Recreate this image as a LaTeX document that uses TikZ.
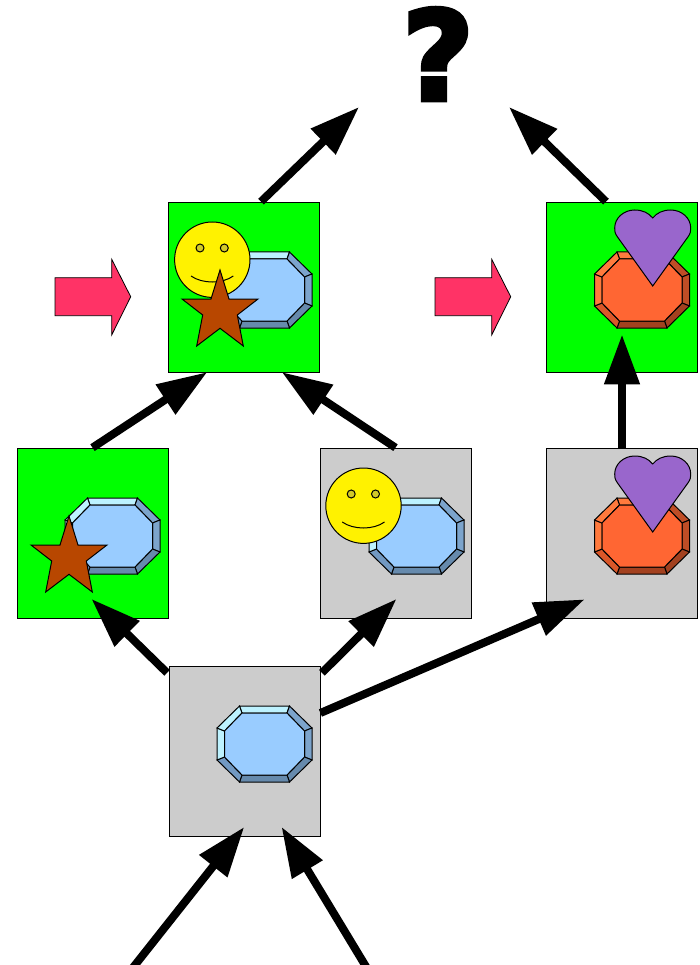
\documentclass[tikz,border=0pt]{standalone}
\usepackage{fontspec}
\newfontfamily\askfont[FakeBold=3.6]{DejaVu Sans Bold}
\usetikzlibrary{arrows.meta}

\definecolor{bluemain}{HTML}{99CCFF}
\definecolor{bluehi}{HTML}{BDF2FF}
\definecolor{blueside}{HTML}{7CA4CC}
\definecolor{blueunder}{HTML}{668AAD}
\definecolor{bluelow}{HTML}{7299C2}
\definecolor{orangemain}{HTML}{FF6633}
\definecolor{orangehi}{HTML}{FF7A3D}
\definecolor{orangeside}{HTML}{BF4D26}
\definecolor{orangeunder}{HTML}{A3411F}
\definecolor{orangelow}{HTML}{D95729}
\definecolor{pushred}{HTML}{FF3366}
\definecolor{starbrown}{HTML}{B84700}
\definecolor{heartpurple}{HTML}{9966CC}

\tikzset{
    panel/.style={draw, line width=.8pt, minimum width=151pt, minimum height=170.5pt, inner sep=0pt},
    greenbox/.style={panel, fill=green},
    graybox/.style={panel, fill=black!20},
    flow/.style={line width=8pt, shorten >=-1.5pt, -{Triangle[length=50pt, width=34pt]}},
    pushmark/.style={draw, line width=.8pt, fill=pushred},
    figline/.style={line width=1pt}
}

% gem at centre #1, colours by name prefix #2
\newcommand{\gem}[2]{
    \begin{scope}[shift={(#1)}, figline]
        \foreach \n/\a/\b/\c/\d in {1/-25/-38/-22.5/-31, 2/25/-38/22.5/-31, 3/47.5/-16/40/-13, 4/47.5/16/40/13,
                                    5/25/38/22.5/31, 6/-25/38/-22.5/31, 7/-47.5/16/-40/13, 8/-47.5/-16/-40/-13} {
            \coordinate (o\n) at (\a,\b);
            \coordinate (i\n) at (\c,\d);
        }
        \foreach \a/\b/\tint in {1/2/hi, 2/3/side, 3/4/side, 4/5/under, 5/6/under, 6/7/low, 7/8/hi, 8/1/hi}
            \draw[fill=#2\tint] (o\a) -- (o\b) -- (i\b) -- (i\a) -- cycle;
        \draw[fill=#2main] (i1) -- (i2) -- (i3) -- (i4) -- (i5) -- (i6) -- (i7) -- (i8) -- cycle;
    \end{scope}
}
\newcommand{\smiley}[1]{
    \begin{scope}[shift={(#1)}, figline]
        \draw[fill=yellow] (0,0) circle (37.7pt);
        \draw[fill=yellow!80!black] (-12.3,-11.7) circle (4pt);
        \draw[fill=yellow!80!black] (12,-11.7) circle (4pt);
        \draw (-21.3,16.3) .. controls (-10,24.3) and (10,24.3) .. (21,16.3);
    \end{scope}
}
\newcommand{\starfig}[1]{
    \draw[shift={(#1)}, figline, fill=starbrown] (0,-42) -- (9,-13) -- (38,-13) -- (17.3,3) -- (23.3,34) -- (0,16.3)
        -- (-23.3,34) -- (-17.3,3) -- (-38,-13) -- (-9,-13) -- cycle;
}
\newcommand{\heartfig}[1]{
    \draw[shift={(#1)}, figline, fill=heartpurple] (0,68) -- (-35.4,18.7) .. controls (-38,15) and (-38,13) .. (-38,10)
        .. controls (-38,0) and (-29,-8) .. (-18,-8) .. controls (-10,-8) and (-4,-5) .. (0,0)
        .. controls (4,-5) and (10,-8) .. (18,-8) .. controls (29,-8) and (38,0) .. (38,10)
        .. controls (38,13) and (38,15) .. (35.4,18.7) -- cycle;
}

\begin{document}
\begin{tikzpicture}[x=1pt, y=-1pt]
    \clip (0,0) rectangle (699,965);

    % Nodes
    \node (ask) at (438,54) {\askfont\fontsize{124}{124}\selectfont ?};
    \node (topleft) [greenbox] at (244,287.3) {};
    \node (topright) [greenbox, right of=topleft, node distance=378pt] {};
    \node (midleft) [greenbox, below of=topleft, node distance=246pt, xshift=-151.5pt] {};
    \node (midmid) [graybox, right of=midleft, node distance=303pt] {};
    \node (midright) [graybox, right of=midleft, node distance=529.5pt] {};
    \node (base) [graybox, below of=topleft, node distance=464.2pt, xshift=.5pt] {};
    \coordinate (askleft) at (358,108);
    \coordinate (askright) at (510,108);
    \coordinate (feedleft) at (124.2,978.7);
    \coordinate (feedright) at (373.3,978.7);

    % Block arrows
    \foreach \x in {0,380}
        \draw[pushmark, xshift=\x pt] (55,277.7) -- (111.7,277.7) -- (111.7,259.3) -- (130.7,296.7)
            -- (111.7,335) -- (111.7,315.7) -- (55,315.7) -- cycle;

    % Figures
    \gem{264.5,290}{blue}
    \smiley{212.3,259.7}
    \starfig{220,312}
    \gem{642,290}{orange}
    \heartfig{652.7,218}
    \gem{112.5,536}{blue}
    \starfig{69,558}
    \gem{416.5,536}{blue}
    \smiley{363.5,505.7}
    \gem{642,536}{orange}
    \heartfig{652.7,464}
    \gem{264.5,744}{blue}

    % Edges
    \draw[flow] (topleft.north) ++(17pt,0pt) -- (askleft);
    \draw[flow] (topright.north) ++(-16pt,0pt) -- (askright);
    \draw[flow] (midleft.north) -- ([xshift=-38pt]topleft.south);
    \draw[flow] (midmid.north) -- ([xshift=39pt]topleft.south);
    \draw[flow] (midright.north) -- ([yshift=37pt]topright.south);
    \draw[flow] ([xshift=-1.5pt,yshift=-7pt]base.north west) -- ([yshift=19pt]midleft.south);
    \draw[flow] ([xshift=1.5pt,yshift=-7pt]base.north east) -- ([yshift=19pt]midmid.south);
    \draw[flow] ([yshift=38.5pt]base.east) -- ([xshift=-38.7pt,yshift=19pt]midright.south);
    \draw[flow] (feedleft) -- ([xshift=-1.2pt,yshift=9pt]base.south);
    \draw[flow] (feedright) -- ([xshift=37.8pt,yshift=9pt]base.south);
\end{tikzpicture}
\end{document}
